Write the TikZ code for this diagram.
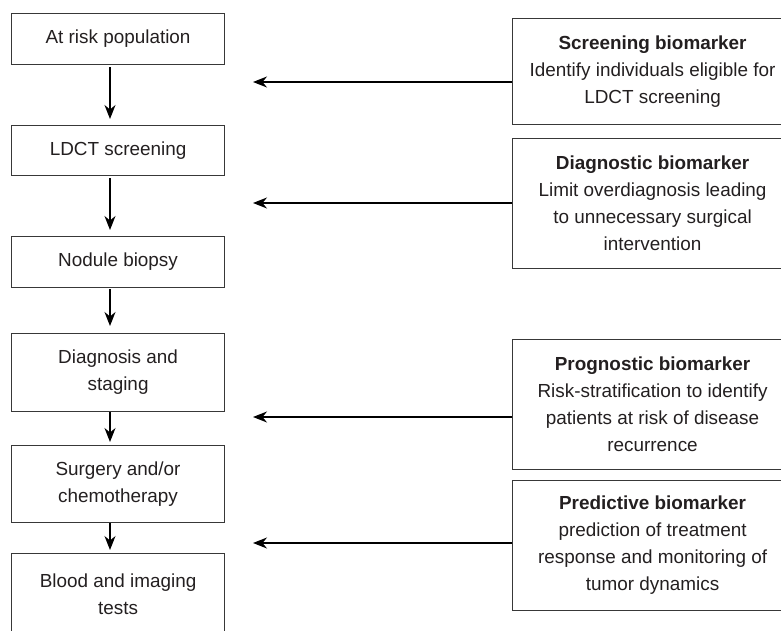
\documentclass[tikz,border=0pt]{standalone}
\usepackage{fontspec}
\setmainfont{Liberation Sans}
\usetikzlibrary{arrows.meta}
\definecolor{txt}{HTML}{231F20}
\definecolor{frame}{HTML}{383838}
\begin{document}
\begin{tikzpicture}[x=1pt,y=-1pt,
  box/.style={draw=frame, line width=1.1pt, text=txt, inner sep=0pt, align=center,
    anchor=north west, font=\fontsize{18.9}{27}\selectfont},
  lbox/.style={box, minimum width=213pt},
  rbox/.style={box, minimum width=280pt},
  arr/.style={-{Stealth[length=14pt,width=11pt,inset=4.5pt]}, line width=1.15pt, black}]
\useasboundingbox (0,0) rectangle (781,631);
% left column
\node[lbox, minimum height=51pt] (b1) at (11,13) {At risk population};
\node[lbox, minimum height=50pt] (b2) at (11,125) {LDCT screening};
\node[lbox, minimum height=51pt] (b3) at (11,236) {Nodule biopsy};
\node[lbox, minimum height=78pt] (b4) at (11,333) {Diagnosis and\\staging};
\node[lbox, minimum height=77pt] (b5) at (11,445) {Surgery and/or\\chemotherapy};
\node[lbox, minimum height=82pt] (b6) at (11,553) {Blood and imaging\\tests};
% right column
\node[rbox, minimum height=106pt] (A) at (512,18) {\textbf{Screening biomarker}\\Identify individuals eligible for\\LDCT screening};
\node[rbox, minimum height=130pt] (B) at (512,138) {\textbf{Diagnostic biomarker}\\Limit overdiagnosis leading\\to unnecessary surgical\\intervention};
\node[rbox, minimum height=130pt] (C) at (512,339) {\textbf{Prognostic biomarker}\\Risk-stratification to identify\\patients at risk of disease\\recurrence};
\node[rbox, minimum height=130pt] (D) at (512,480) {\textbf{Predictive biomarker}\\prediction of treatment\\response and monitoring of\\tumor dynamics};
% vertical arrows
\coordinate (ax) at (110,0);
\draw[arr, shorten <=2pt, shorten >=6pt] (b1.south -| ax) -- (b2.north -| ax);
\draw[arr, shorten <=2pt, shorten >=6pt] (b2.south -| ax) -- (b3.north -| ax);
\draw[arr, shorten <=1pt, shorten >=7pt] (b3.south -| ax) -- (b4.north -| ax);
\draw[arr, shorten >=3pt] (b4.south -| ax) -- (b5.north -| ax);
\draw[arr, shorten >=3pt] (b5.south -| ax) -- (b6.north -| ax);
% horizontal arrows
\coordinate (tA) at (253,82);
\coordinate (tB) at (253,203);
\coordinate (tC) at (253,417);
\coordinate (tD) at (253,543);
\draw[arr] (A.west |- tA) -- (tA);
\draw[arr] (B.west |- tB) -- (tB);
\draw[arr] (C.west |- tC) -- (tC);
\draw[arr] (D.west |- tD) -- (tD);
\end{tikzpicture}
\end{document}
